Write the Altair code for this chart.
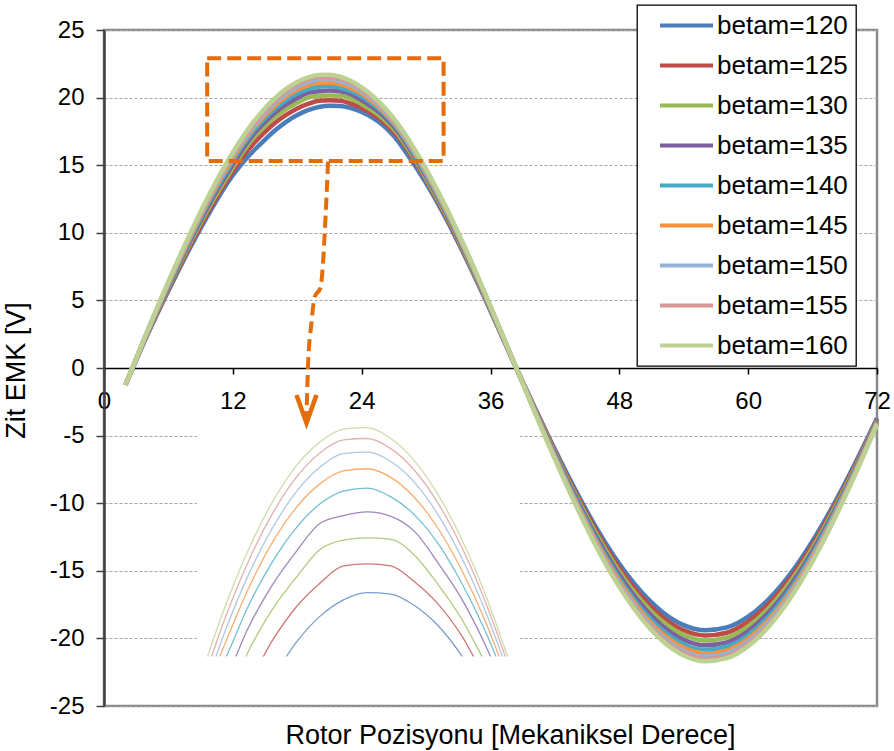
import altair as alt
import pandas as pd

# ---------------- data ----------------
x_deg = [2, 4, 6, 8, 10, 12, 13, 14, 15, 16, 17, 18, 19, 20, 21, 22, 23, 24, 25, 26, 27, 28,
         30, 32, 34, 36, 38, 40, 42, 44, 46, 48, 50, 52, 54, 56, 58, 60, 62, 64, 66, 68, 70, 72]

series_labels = ["betam=120", "betam=125", "betam=130", "betam=135", "betam=140",
                 "betam=145", "betam=150", "betam=155", "betam=160"]

v120 = [-1.25, 2.38, 5.71, 8.86, 11.74, 14.26, 15.25, 16.12, 16.90, 17.62, 18.23, 18.71, 19.07, 19.30, 19.40, 19.38, 19.22, 18.94, 18.52, 17.95, 17.15, 16.10,
        13.68, 10.84, 7.63, 4.22, 0.68, -2.72, -6.03, -9.16, -12.01, -14.49, -16.52, -18.04, -19.02, -19.40, -19.19, -18.39, -17.03, -15.15, -12.79, -10.05, -6.99, -3.72]
v125 = [-1.25, 2.43, 5.82, 9.03, 11.97, 14.54, 15.70, 16.66, 17.47, 18.17, 18.74, 19.20, 19.53, 19.77, 19.80, 19.77, 19.55, 19.24, 18.80, 18.23, 17.45, 16.45,
        13.90, 10.99, 7.73, 4.28, 0.69, -2.77, -6.15, -9.34, -12.25, -14.78, -16.85, -18.41, -19.40, -19.79, -19.58, -18.76, -17.37, -15.45, -13.05, -10.25, -7.13, -3.80]
v130 = [-1.25, 2.47, 5.93, 9.20, 12.19, 14.81, 16.05, 17.10, 17.91, 18.60, 19.17, 19.61, 20.00, 20.13, 20.16, 20.14, 19.92, 19.51, 19.03, 18.43, 17.65, 16.60,
        14.01, 11.11, 7.82, 4.33, 0.71, -2.82, -6.26, -9.51, -12.47, -15.05, -17.15, -18.74, -19.75, -20.15, -19.94, -19.11, -17.69, -15.73, -13.29, -10.44, -7.26, -3.87]
v135 = [-1.25, 2.52, 6.03, 9.36, 12.41, 15.07, 16.30, 17.37, 18.21, 18.93, 19.51, 19.97, 20.36, 20.47, 20.52, 20.46, 20.25, 19.81, 19.31, 18.67, 17.85, 16.80,
        14.19, 11.25, 7.93, 4.39, 0.72, -2.87, -6.38, -9.68, -12.70, -15.31, -17.46, -19.08, -20.10, -20.51, -20.29, -19.45, -18.00, -16.01, -13.52, -10.62, -7.39, -3.94]
v140 = [-1.25, 2.56, 6.13, 9.51, 12.61, 15.31, 16.55, 17.61, 18.48, 19.23, 19.83, 20.30, 20.63, 20.81, 20.85, 20.73, 20.48, 20.08, 19.53, 18.86, 18.05, 16.95,
        14.32, 11.35, 8.01, 4.44, 0.73, -2.92, -6.48, -9.84, -12.90, -15.56, -17.74, -19.38, -20.43, -20.84, -20.62, -19.76, -18.29, -16.27, -13.74, -10.79, -7.51, -4.00]
v145 = [-1.25, 2.59, 6.21, 9.64, 12.78, 15.52, 16.75, 17.80, 18.70, 19.47, 20.10, 20.58, 20.91, 21.09, 21.12, 21.00, 20.72, 20.29, 19.71, 19.00, 18.14, 17.05,
        14.43, 11.44, 8.07, 4.48, 0.74, -2.96, -6.57, -9.97, -13.07, -15.77, -17.98, -19.64, -20.70, -21.12, -20.90, -20.02, -18.54, -16.49, -13.93, -10.94, -7.61, -4.05]
v150 = [-1.25, 2.62, 6.28, 9.75, 12.92, 15.69, 16.88, 17.93, 18.87, 19.66, 20.30, 20.80, 21.14, 21.33, 21.35, 21.22, 20.93, 20.48, 19.88, 19.14, 18.25, 17.15,
        14.53, 11.52, 8.13, 4.51, 0.75, -2.99, -6.64, -10.08, -13.22, -15.94, -18.18, -19.86, -20.93, -21.35, -21.12, -20.24, -18.74, -16.67, -14.08, -11.06, -7.70, -4.10]
v155 = [-1.25, 2.64, 6.34, 9.83, 13.03, 15.83, 17.05, 18.10, 19.05, 19.85, 20.50, 21.00, 21.34, 21.52, 21.54, 21.40, 21.10, 20.64, 20.03, 19.27, 18.36, 17.25,
        14.63, 11.59, 8.19, 4.54, 0.76, -3.01, -6.70, -10.17, -13.33, -16.08, -18.34, -20.03, -21.11, -21.54, -21.31, -20.42, -18.91, -16.82, -14.20, -11.16, -7.76, -4.14]
v160 = [-1.25, 2.66, 6.38, 9.90, 13.12, 15.94, 17.17, 18.27, 19.21, 20.01, 20.66, 21.16, 21.49, 21.67, 21.69, 21.54, 21.23, 20.76, 20.14, 19.37, 18.45, 17.35,
        14.71, 11.66, 8.24, 4.57, 0.76, -3.04, -6.74, -10.24, -13.43, -16.19, -18.46, -20.17, -21.26, -21.69, -21.46, -20.57, -19.04, -16.93, -14.30, -11.23, -7.82, -4.16]

series_values = [v120, v125, v130, v135, v140, v145, v150, v155, v160]

colors = ["#4A7EBB", "#BE4B48", "#98B954", "#7D60A0", "#46AAC5",
          "#F69240", "#95B3D7", "#D99694", "#BCD292"]

x_ticks = [0, 12, 24, 36, 48, 60, 72]
y_ticks = [-25, -20, -15, -10, -5, 0, 5, 10, 15, 20, 25]
x_title = "Rotor Pozisyonu [Mekaniksel Derece]"
y_title = "Zit EMK [V]"

# zoom box (data coords) and arrow path (data coords)
box_x = [9.61, 31.63]
box_y = [15.31, 22.91]
arrow_x = [20.87, 20.56, 20.40, 20.16, 19.63, 19.32, 19.00, 18.86]
arrow_y = [15.26, 9.99, 7.77, 5.92, 5.27, 3.33, 0.10, -3.70]
head_x = [17.93, 18.86, 19.79]
head_y = [-2.0, -4.07, -2.0]
inset_bg_x = [8.65, 38.7]
inset_bg_y = [-3.55, -21.3]
inset_mask_x = [7.8, 39.6]
inset_mask_y = [-21.34, -24.85]
inset_x_dom = [14, 27]
inset_y_dom = [17.9, 21.9]

# ---------------- tables ----------------
rows = []
for lab, vals in zip(series_labels, series_values):
    for xv, yv in zip(x_deg, vals):
        rows.append({"x": xv, "v": yv, "series": lab})
df = pd.DataFrame(rows)

W, H = 773, 676
FONT = "Liberation Sans"
ORANGE = "#E46C0A"

xs = alt.Scale(domain=[0, 72], nice=False, zero=False)
ys = alt.Scale(domain=[-25, 25], nice=False, zero=False)

color_enc = alt.Color(
    "series:N",
    scale=alt.Scale(domain=series_labels, range=colors),
    sort=series_labels,
    legend=alt.Legend(
        title=None, orient="none", legendX=533, legendY=-25,
        fillColor="white", strokeColor="black", padding=7.5,
        labelFont=FONT, labelFontSize=26, labelColor="black",
        labelOffset=17.5, symbolOffset=29, symbolSize=400,
        symbolType="M-2.65,0H2.65", symbolStrokeWidth=4,
        rowPadding=14, labelExpr="datum.label + '\u2002\u00a0'", labelLimit=400,
    ),
)

main = alt.Chart(df).mark_line(strokeWidth=4.5, interpolate="monotone").encode(
    x=alt.X("x:Q", scale=xs, axis=alt.Axis(
        values=x_ticks, title=x_title, offset=-338, grid=False,
        domainColor="black", domainWidth=1.5, tickColor="black", tickWidth=1.5, tickSize=6,
        labelFont=FONT, labelFontSize=24, labelColor="black", labelPadding=15,
        labelFlush=False, labelOverlap=False, labelExpr="'' + datum.value",
        titleFont=FONT, titleFontSize=27, titleFontWeight="normal", titleColor="black",
        titleX=406, titleY=375, titleBaseline="alphabetic", titleAlign="center")),
    y=alt.Y("v:Q", scale=ys, axis=alt.Axis(
        values=y_ticks, title=y_title, grid=True,
        gridColor="#a6a6a6", gridDash=[3, 2], gridWidth=1,
        domainColor="#404040", domainWidth=2.5, tickColor="#404040", tickWidth=1.5, tickSize=8,
        labelFont=FONT, labelFontSize=24, labelColor="black", labelPadding=12,
        labelFlush=False, labelOverlap=False, labelExpr="'' + datum.value",
        titleFont=FONT, titleFontSize=27, titleFontWeight="normal", titleColor="black",
        titleX=-88, titleY=340, titleAngle=270, titleBaseline="middle", titleAlign="center")),
    color=color_enc,
)

bg_df = pd.DataFrame({"x1": [inset_bg_x[0]], "x2": [inset_bg_x[1]], "y1": [inset_bg_y[0]], "y2": [inset_bg_y[1]]})
inset_bg = alt.Chart(bg_df).mark_rect(color="white").encode(
    x=alt.X("x1:Q", scale=xs), x2="x2:Q",
    y=alt.Y("y1:Q", scale=ys), y2="y2:Q")

layer_a = alt.layer(main, inset_bg)

inset = alt.Chart(df).transform_filter(
    (alt.datum.x >= inset_x_dom[0]) & (alt.datum.x <= inset_x_dom[1])
).mark_line(strokeWidth=1.3, opacity=0.75, interpolate="monotone").encode(
    x=alt.X("x:Q", scale=alt.Scale(domain=inset_x_dom, range=[97.6, 405.1], nice=False, zero=False), axis=None),
    y=alt.Y("v:Q", scale=alt.Scale(domain=inset_y_dom, range=[670.6, 382.6], nice=False, zero=False, clamp=True), axis=None),
    color=alt.Color("series:N", scale=alt.Scale(domain=series_labels, range=colors), sort=series_labels, legend=None),
)

mask_df = pd.DataFrame({"x1": [inset_mask_x[0]], "x2": [inset_mask_x[1]], "y1": [inset_mask_y[0]], "y2": [inset_mask_y[1]]})
mask = alt.Chart(mask_df).mark_rect(color="white").encode(
    x=alt.X("x1:Q", scale=xs, axis=None), x2="x2:Q",
    y=alt.Y("y1:Q", scale=ys, axis=None), y2="y2:Q")

box_df = pd.DataFrame({"x1": [box_x[0]], "x2": [box_x[1]], "y1": [box_y[0]], "y2": [box_y[1]]})
box = alt.Chart(box_df).mark_rect(fill="transparent", stroke=ORANGE, strokeWidth=4, strokeDash=[14, 6]).encode(
    x=alt.X("x1:Q", scale=xs, axis=None), x2="x2:Q",
    y=alt.Y("y1:Q", scale=ys, axis=None), y2="y2:Q")

arrow_df = pd.DataFrame({"x": arrow_x, "y": arrow_y, "o": list(range(len(arrow_x)))})
arrow = alt.Chart(arrow_df).mark_line(color=ORANGE, strokeWidth=4, strokeDash=[12, 6], interpolate="monotone").encode(
    x=alt.X("x:Q", scale=xs, axis=None), y=alt.Y("y:Q", scale=ys, axis=None), order="o:Q")

head_df = pd.DataFrame({"x": head_x, "y": head_y, "o": [0, 1, 2]})
head = alt.Chart(head_df).mark_line(color=ORANGE, strokeWidth=4.5, strokeJoin="miter").encode(
    x=alt.X("x:Q", scale=xs, axis=None), y=alt.Y("y:Q", scale=ys, axis=None), order="o:Q")

layer_c = alt.layer(mask, box, arrow, head)

chart = alt.layer(layer_a, inset, layer_c).resolve_scale(
    x="independent", y="independent"
).properties(
    width=W, height=H,
    autosize=alt.AutoSizeParams(type="none"),
    padding={"left": 104, "top": 30, "right": 17, "bottom": 45},
    background="white",
).configure(
    font=FONT
).configure_view(
    stroke="#8a8a8a", strokeWidth=2.5
).configure_legend(
    strokeWidth=1.3
)

chart.save("out.html", embed_options={"renderer": "svg", "actions": False})
